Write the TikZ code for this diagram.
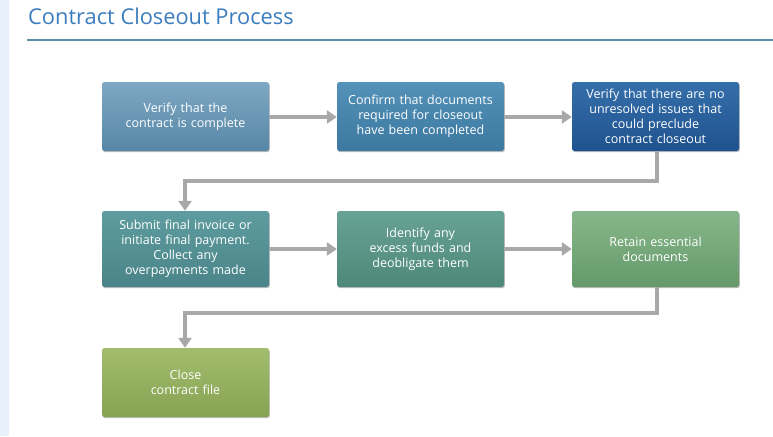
\documentclass[tikz,border=0pt]{standalone}
\usepackage{fontspec}
\setmainfont{Open Sans}
\usetikzlibrary{shadows,arrows.meta}
\definecolor{strip}{HTML}{E8F0FC}
\definecolor{titleblue}{HTML}{3B7DBE}
\definecolor{rule}{HTML}{5B8FA8}
\definecolor{conn}{HTML}{A8A8A8}
\definecolor{t1}{HTML}{7EA8C3}\definecolor{u1}{HTML}{5787A6}
\definecolor{t2}{HTML}{5492BA}\definecolor{u2}{HTML}{3C78A0}
\definecolor{t3}{HTML}{356FAA}\definecolor{u3}{HTML}{1F528E}
\definecolor{t4}{HTML}{5E9CA0}\definecolor{u4}{HTML}{4A8488}
\definecolor{t5}{HTML}{67A296}\definecolor{u5}{HTML}{4E8878}
\definecolor{t6}{HTML}{86B78A}\definecolor{u6}{HTML}{65996A}
\definecolor{t7}{HTML}{A2BD6E}\definecolor{u7}{HTML}{86A253}
\tikzset{
  stepbox/.style={rounded corners=2.5pt, minimum width=167pt, text width=155pt, align=center,
    text=white, font=\fontsize{12.5}{15}\selectfont, inner sep=0pt,
    drop shadow={shadow xshift=0.8pt, shadow yshift=-1.2pt, opacity=0.25, fill=black}},
  flow/.style={draw=conn, line width=4pt, -{Triangle[length=10pt,width=13pt]}},
}
\begin{document}
\begin{tikzpicture}[x=1pt,y=-1pt]
\useasboundingbox (0,0) rectangle (773,436);
\fill[white] (0,0) rectangle (773,436);
\fill[strip] (0,0) rectangle (9,436);
\node[anchor=base west, text=titleblue, font=\fontsize{21.8}{26}\selectfont, inner sep=0pt] (title) at (28,25) {Contract Closeout Process};
\draw[rule, line width=2pt] (27,40) -- (773,40);
\node[stepbox, minimum height=69pt, top color=t1, bottom color=u1] (b1) at (185.5,116.5) {Verify that the\\contract is complete};
\node[stepbox, minimum height=69pt, top color=t2, bottom color=u2] (b2) at (420.5,116.5) {Confirm that documents\\required for closeout\\have been completed};
\node[stepbox, minimum height=69pt, top color=t3, bottom color=u3] (b3) at (655.5,116.5) {Verify that there are no\\unresolved issues that\\could preclude\\contract closeout};
\node[stepbox, minimum height=76pt, top color=t4, bottom color=u4] (b4) at (185.5,249) {Submit final invoice or\\initiate final payment.\\Collect any\\overpayments made};
\node[stepbox, minimum height=76pt, top color=t5, bottom color=u5] (b5) at (420.5,249) {Identify any\\excess funds and\\deobligate them};
\node[stepbox, minimum height=76pt, top color=t6, bottom color=u6] (b6) at (655.5,249) {Retain essential\\documents\\[14pt]};
\node[stepbox, minimum height=69pt, top color=t7, bottom color=u7] (b7) at (185.5,382.5) {Close\\contract file};
\coordinate (k1) at (657,181);
\coordinate (k2) at (185,181);
\coordinate (k3) at (657,313);
\coordinate (k4) at (185,313);
\draw[flow] (b1.east |- 0,117) -- (b2.west |- 0,117);
\draw[flow] (b2.east |- 0,117) -- (b3.west |- 0,117);
\draw[flow] (b3.south -| k1) -- (k1) -- (k2) -- (b4.north -| k2);
\draw[flow] (b4.east |- 0,249) -- (b5.west |- 0,249);
\draw[flow] (b5.east |- 0,249) -- (b6.west |- 0,249);
\draw[flow] (b6.south -| k3) -- (k3) -- (k4) -- (b7.north -| k4);
\end{tikzpicture}
\end{document}
